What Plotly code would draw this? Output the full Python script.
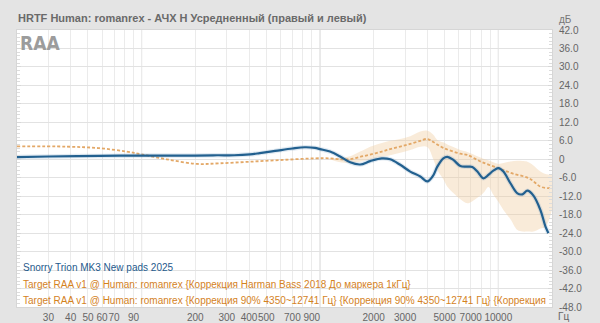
import plotly.graph_objects as go

# ---- data ----
blue_freq = [20, 30, 58, 100, 200, 265, 330, 405, 460, 560, 700, 820, 938, 1000, 1139, 1297, 1476,
             1680, 1912, 2223, 2476, 2818, 3207, 3650, 3997, 4320, 4550, 4915, 5177, 5593, 6125,
             6703, 7152, 7632, 8248, 8796, 9380, 10006, 10678, 11693, 12800, 13650, 14560, 15740,
             17230, 18390, 19100]
blue_db = [0.7, 0.9, 1.1, 1.2, 1.2, 1.3, 1.3, 1.6, 2.0, 2.7, 3.5, 3.9, 3.7, 3.3, 2.5, 0.9, -1.0,
           -1.7, -0.6, 0.3, 0.0, -1.8, -4.0, -5.6, -7.2, -5.2, -2.4, 0.3, 0.8, -0.2, -2.2,
           -2.4, -2.5, -4.0, -6.2, -5.1, -3.7, -2.9, -4.0, -7.8, -11.1, -11.4, -10.2, -11.8,
           -16.5, -21.9, -24.0]

target_freq = [20, 38, 58, 82, 100, 138, 204, 274, 405, 620, 938, 1139, 1297, 1476, 1680, 1912,
               2223, 2476, 2818, 3207, 3650, 3997, 4320, 4915, 6125, 6703, 8000, 10006, 12000,
               14900, 17230, 19100, 20000]
target_db = [4.2, 4.1, 3.6, 2.5, 1.6, 0.0, -1.5, -1.3, -0.8, -0.2, 0.3, 0.3, 0.0, 0.0, 0.8, 1.5,
             2.5, 3.3, 4.1, 5.0, 6.0, 6.6, 5.6, 3.7, 1.8, 1.4, -0.8, -2.9, -4.6,
             -6.2, -8.9, -9.4, -9.4]

band_freq = [1100, 1297, 1476, 1680, 1912, 2223, 2476, 2818, 3207, 3650, 3997, 4320, 4550, 4915,
             5177, 5593, 6125, 6703, 7632, 8248, 8796, 9380, 10006, 10678, 11693, 12800, 13650,
             14560, 15740, 17230, 18390, 20000]
band_upper = [0.3, 0.5, 1.0, 2.5, 4.1, 5.3, 6.0, 6.6, 7.5, 9.0, 9.3, 8.0, 6.3, 5.5,
              4.8, 4.0, 3.0, 2.4, 1.0, 0.2, -0.3, -1.0, -1.5, -1.2, -0.7, -0.5, -0.6,
              -0.8, -2.0, -4.0, -4.8, -5.1]
band_lower = [0.3, -1.0, -1.2, -0.8, 0.0, 0.8, 1.3, 2.1, 3.0, 4.1, 4.0, 0.0, -3.5, -6.5,
              -8.9, -11.0, -13.0, -14.3, -12.5, -11.0, -9.0, -11.5, -13.8, -16.5, -19.5, -23.0, -23.5,
              -23.5, -23.5, -22.5, -22.0, -16.5]

x_tickvals = [20, 30, 40, 50, 60, 70, 80, 90, 100, 200, 300, 400, 500, 600, 700, 800, 900, 1000,
              2000, 3000, 4000, 5000, 6000, 7000, 8000, 9000, 10000, 20000]
x_ticktext = ["", "30", "40", "50", "60", "70", "", "90", "", "200", "300", "400", "500", "", "700",
              "", "900", "", "2000", "3000", "", "5000", "", "7000", "", "", "10000", ""]
decade_lines = [100, 1000, 10000]
y_tickvals = [42, 36, 30, 24, 18, 12, 6, 0, -6, -12, -18, -24, -30, -36, -42, -48]
y_ticktext = ["42.0", "36.0", "30.0", "24.0", "18.0", "12.0", "6.0", "0", "-6.0", "-12.0",
              "-18.0", "-24.0", "-30.0", "-36.0", "-42.0", "-48.0"]

title_text = "HRTF Human: romanrex - АЧХ Н Усредненный (правый и левый)"
legend_lines = [
    ("Snorry Trion MK3 New pads 2025", "#1f5a8c"),
    ("Target RAA v1 @ Human: romanrex {Коррекция Harman Bass 2018 До маркера 1кГц}", "#d4821e"),
    ("Target RAA v1 @ Human: romanrex {Коррекция 90% 4350~12741 Гц} {Коррекция 90% 4350~12741 Гц} {Коррекция", "#d4821e"),
]

FONT = "Liberation Sans, Arial, sans-serif"

fig = go.Figure()

# target spread band
fig.add_trace(go.Scatter(x=band_freq, y=band_upper, mode="lines", line=dict(width=0, shape="spline"),
                         hoverinfo="skip", showlegend=False))
fig.add_trace(go.Scatter(x=band_freq, y=band_lower, mode="lines", line=dict(width=0, shape="spline"),
                         fill="tonexty", fillcolor="rgba(240,205,160,0.40)", hoverinfo="skip",
                         showlegend=False))
# target curve
fig.add_trace(go.Scatter(x=target_freq, y=target_db, mode="lines",
                         line=dict(color="#e3a867", width=1.8, dash="3px,2px", shape="spline"),
                         showlegend=False))
# measured curve halo + line
fig.add_trace(go.Scatter(x=blue_freq, y=blue_db, mode="lines",
                         line=dict(color="rgba(90,140,185,0.18)", width=4.5, shape="spline"),
                         showlegend=False, hoverinfo="skip"))
fig.add_trace(go.Scatter(x=blue_freq, y=blue_db, mode="lines",
                         line=dict(color="#22608f", width=2.2, shape="spline"),
                         showlegend=False))

for f in decade_lines:
    fig.add_shape(type="line", xref="x", yref="paper", x0=f, x1=f, y0=0, y1=1,
                  line=dict(color="#d0d0d0", width=1), layer="below")

annotations = [
    dict(text="<b>" + title_text + "</b>", xref="paper", yref="paper", x=-0.001, y=1.045,
         xanchor="left", yanchor="middle", showarrow=False,
         font=dict(family=FONT, size=11, color="#6a6a6a")),
    dict(text="дБ", xref="paper", yref="paper", x=1.010, y=1.038, xanchor="left", yanchor="middle",
         showarrow=False, font=dict(family=FONT, size=10, color="#777")),
    dict(text="Гц", xref="paper", yref="paper", x=1.008, y=-0.033, xanchor="left", yanchor="middle",
         showarrow=False, font=dict(family=FONT, size=10, color="#666")),
    dict(text="<b>RAA</b>", xref="paper", yref="paper", x=0.002, y=0.952, xanchor="left",
         yanchor="middle", showarrow=False,
         font=dict(family="DejaVu Sans Condensed, DejaVu Sans", size=19, color="#9c9c9c")),
]
ys = [0.141, 0.083, 0.025]
for (txt, col), yy in zip(legend_lines, ys):
    annotations.append(dict(text=txt, xref="paper", yref="paper", x=0.008, y=yy,
                            xanchor="left", yanchor="middle", showarrow=False,
                            font=dict(family=FONT, size=10, color=col)))

fig.update_layout(
    width=600, height=323,
    margin=dict(l=17, r=48, t=30, b=16, autoexpand=False),
    paper_bgcolor="#e4e4e4",
    plot_bgcolor="#ffffff",
    annotations=annotations,
    hovermode=False,
)
fig.update_xaxes(type="log", range=[1.30103, 4.30103], tickmode="array", tickvals=x_tickvals,
                 ticktext=x_ticktext, tickangle=0, showgrid=True, gridcolor="#ebebeb", gridwidth=1,
                 zeroline=False, ticks="", showline=True, linecolor="#d6d6d6", mirror=True,
                 tickfont=dict(family=FONT, size=10, color="#666"), automargin=False,
                 ticklabelstandoff=1)
fig.update_yaxes(range=[-48, 42], side="right", tickmode="array", tickvals=y_tickvals,
                 ticktext=y_ticktext, showgrid=True, gridcolor="#e2e2e2", gridwidth=1,
                 zeroline=False, ticks="inside", ticklen=4, tickcolor="#d8d8d8", mirror="allticks",
                 showline=True, linecolor="#d6d6d6",
                 minor=dict(tickmode="linear", tick0=0, dtick=1.2, ticks="inside", ticklen=3,
                            tickcolor="#dcdcdc", showgrid=False),
                 tickfont=dict(family=FONT, size=10, color="#666"), automargin=False,
                 ticklabelstandoff=4)

fig.write_html("out.html")
